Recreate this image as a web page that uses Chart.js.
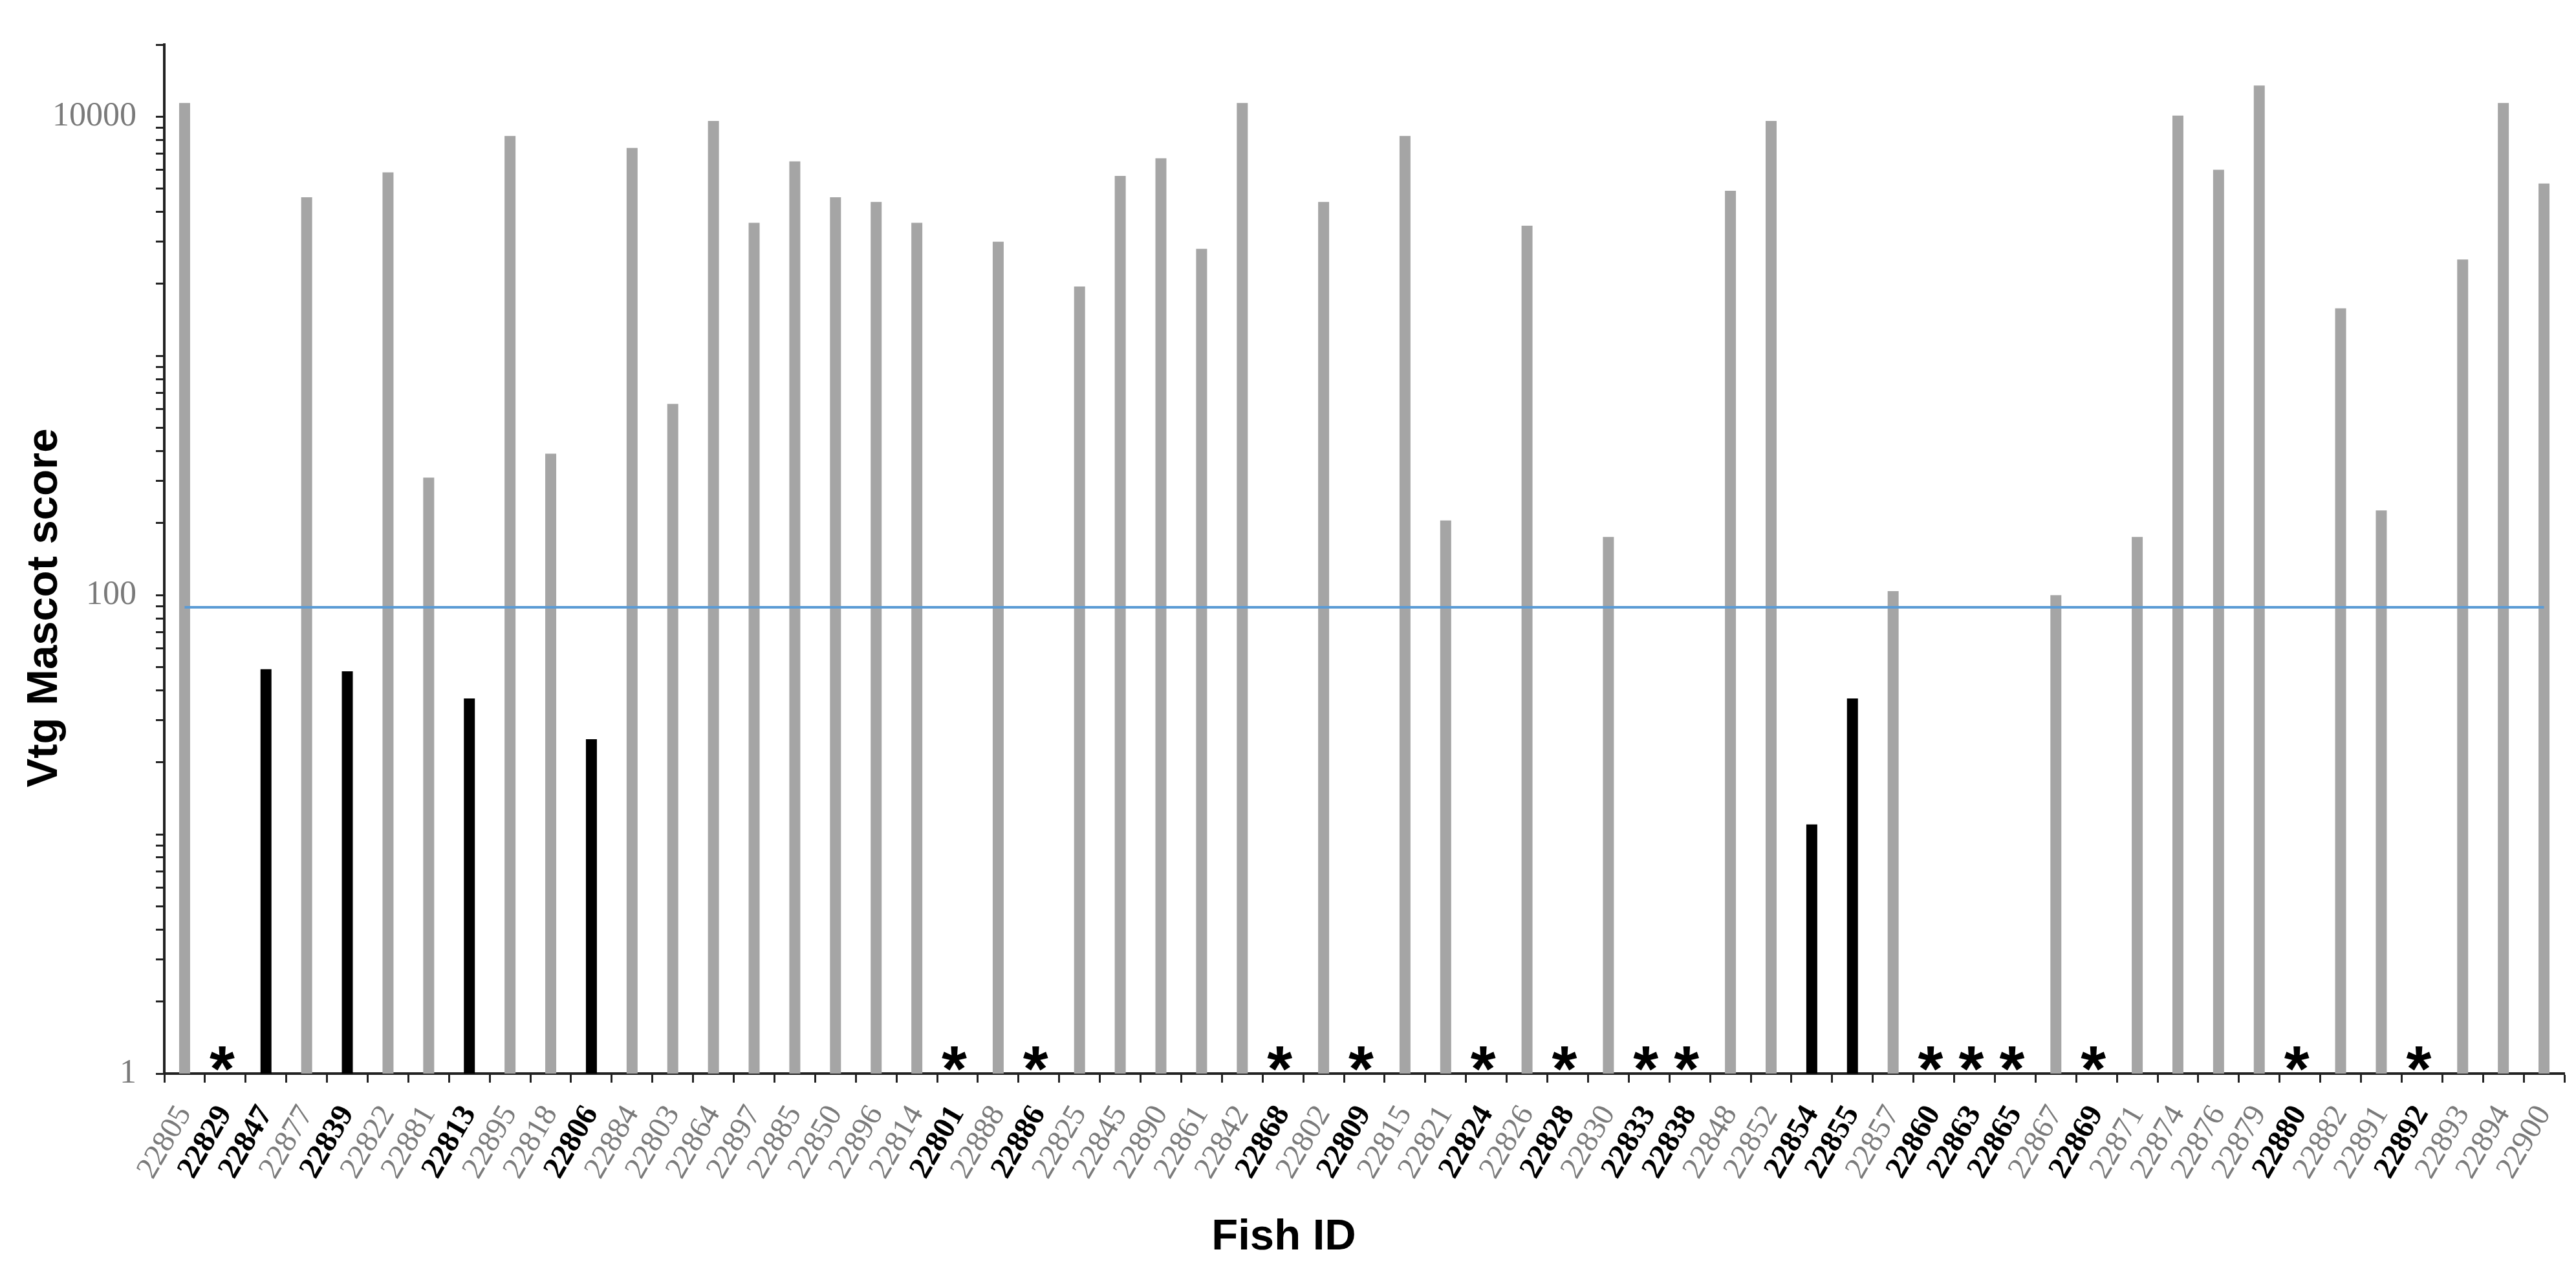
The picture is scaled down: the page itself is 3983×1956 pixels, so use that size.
<!DOCTYPE html>
<html>
<head>
<meta charset="utf-8">
<script src="https://cdn.jsdelivr.net/npm/chart.js@4.4.1/dist/chart.umd.min.js"></script>
<style>
    html, body { margin: 0; padding: 0; background: #fff; }
    #wrap { width: 3983px; height: 1956px; position: relative; }
</style>
</head>
<body>
<div id="wrap"><canvas id="vtgChart"></canvas></div>
<script>
// Fish IDs in plotted order
const fishIds = [
    '22805', '22829', '22847', '22877', '22839', '22822', '22881', '22813', '22895', '22818',
    '22806', '22884', '22803', '22864', '22897', '22885', '22850', '22896', '22814', '22801',
    '22888', '22886', '22825', '22845', '22890', '22861', '22842', '22868', '22802', '22809',
    '22815', '22821', '22824', '22826', '22828', '22830', '22833', '22838', '22848', '22852',
    '22854', '22855', '22857', '22860', '22863', '22865', '22867', '22869', '22871', '22874',
    '22876', '22879', '22880', '22882', '22891', '22892', '22893', '22894', '22900'
];

// Vtg Mascot score (null = no Vtg detected, marked with *)
const scores = [
    11400, null, 49, 4600, 48, 5850, 310, 37, 8300, 390,
    25, 7400, 630, 9600, 3600, 6500, 4600, 4400, 3600, null,
    3000, null, 1950, 5650, 6700, 2800, 11400, null, 4400, null,
    8300, 205, null, 3500, null, 175, null, null, 4900, 9600,
    11, 37, 104, null, null, null, 100, null, 175, 10100,
    6000, 13500, null, 1580, 226, null, 2530, 11400, 5250
];

// Mascot significance threshold
const threshold = 89;

// labelled y ticks
const yLabels = [1, 100, 10000];
const yMin = 1;
const yMax = 20000;

const grayBar = '#a5a5a5';
const blackBar = '#000000';
const grayText = '#7a7a7a';
const lineBlue = '#5b9bd5';

function isLow(i) {
    return scores[i] === null || scores[i] < threshold;
}

// ticks at 1..9 x 10^k, like the minor ticks on the log axis
function logTicks() {
    const out = [];
    for (let d = 1; d <= 10000; d *= 10) {
        for (let m = 1; m <= 9; m++) {
            const v = m * d;
            if (v <= yMax) out.push({ value: v });
        }
    }
    return out;
}

// asterisks for fish with no score, plus axis titles
const extrasPlugin = {
    id: 'extras',
    afterDatasetsDraw(chart) {
        const ctx = chart.ctx;
        const x = chart.scales.x;
        const y = chart.scales.y;
        ctx.save();
        ctx.fillStyle = '#000';
        ctx.font = 'bold 100px "Liberation Sans", Arial, sans-serif';
        ctx.textAlign = 'center';
        ctx.textBaseline = 'alphabetic';
        const m = ctx.measureText('*');
        // glyph bottom sits just above the x axis
        const baseline = y.bottom - 4 - m.actualBoundingBoxDescent;
        scores.forEach((s, i) => {
            if (s !== null) return;
            ctx.fillText('*', x.getPixelForValue(i) - 5, baseline);
        });
        ctx.restore();
    },
    afterDraw(chart) {
        const ctx = chart.ctx;
        ctx.save();
        ctx.fillStyle = '#000';
        ctx.font = 'bold 67px "Liberation Sans", Arial, sans-serif';
        ctx.textAlign = 'center';
        ctx.textBaseline = 'alphabetic';
        ctx.fillText('Fish ID', 1985, 1932);

        ctx.translate(88, 940);
        ctx.rotate(-Math.PI / 2);
        ctx.fillText('Vtg Mascot score', 0, 0);
        ctx.restore();
    }
};

const ctx = document.getElementById('vtgChart').getContext('2d');
new Chart(ctx, {
    type: 'bar',
    data: {
        labels: fishIds,
        datasets: [
            {
                type: 'line',
                label: 'Threshold',
                data: fishIds.map(() => threshold),
                borderColor: lineBlue,
                borderWidth: 4,
                pointRadius: 0,
                fill: false,
                order: 0
            },
            {
                label: 'Vtg Mascot score',
                data: scores,
                backgroundColor: scores.map((s, i) => isLow(i) ? blackBar : grayBar),
                barPercentage: 0.27,
                categoryPercentage: 1,
                order: 1
            }
        ]
    },
    options: {
        responsive: true,
        maintainAspectRatio: false,
        animation: false,
        layout: { padding: { top: 69, right: 18, left: 0, bottom: 0 } },
        plugins: {
            legend: { display: false },
            tooltip: { enabled: false }
        },
        scales: {
            x: {
                type: 'category',
                offset: true,
                afterFit: (scale) => {
                    scale.height = 296;
                    scale.paddingLeft = 0;
                    scale.paddingRight = 0;
                },
                border: { display: true, color: '#222', width: 4 },
                grid: {
                    offset: true,
                    drawOnChartArea: false,
                    drawTicks: true,
                    tickLength: 14,
                    tickColor: '#222',
                    tickWidth: 3
                },
                ticks: {
                    autoSkip: false,
                    maxRotation: 60,
                    minRotation: 60,
                    padding: 26,
                    color: (c) => isLow(c.index) ? '#000' : grayText,
                    font: (c) => ({
                        family: '"Liberation Serif", "Times New Roman", serif',
                        size: 48,
                        weight: isLow(c.index) ? 'bold' : 'normal'
                    })
                }
            },
            y: {
                type: 'logarithmic',
                min: yMin,
                max: yMax,
                afterFit: (scale) => {
                    scale.width = 254;
                    scale.paddingTop = 0;
                    scale.paddingBottom = 0;
                },
                afterBuildTicks: (scale) => { scale.ticks = logTicks(); },
                border: { display: true, color: '#222', width: 4 },
                grid: {
                    drawOnChartArea: false,
                    drawTicks: true,
                    tickLength: 13,
                    tickColor: '#222',
                    tickWidth: 3
                },
                ticks: {
                    autoSkip: false,
                    padding: 30,
                    color: grayText,
                    font: { family: '"Liberation Serif", "Times New Roman", serif', size: 52 },
                    callback: (v) => yLabels.includes(v) ? String(v) : ''
                }
            }
        }
    },
    plugins: [extrasPlugin]
});
</script>
</body>
</html>
